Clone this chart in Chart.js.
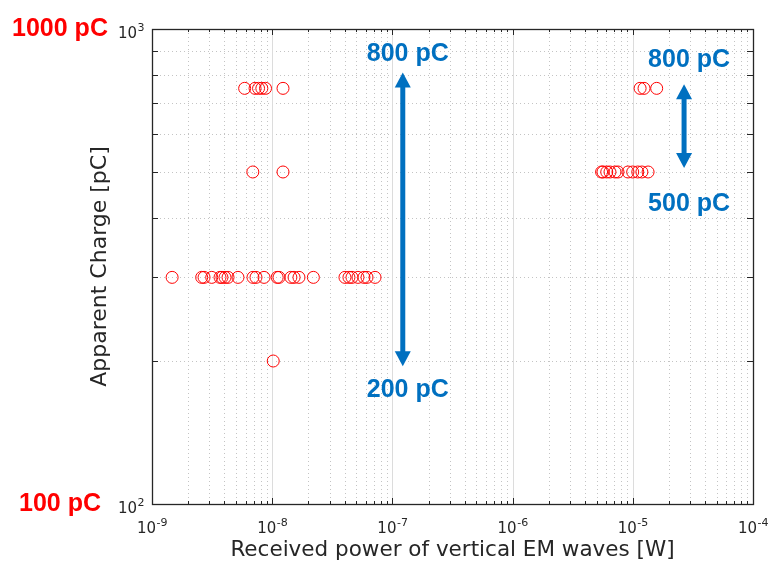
<!DOCTYPE html>
<html>
<head>
<meta charset="utf-8">
<script src="https://cdn.jsdelivr.net/npm/chart.js@4.4.0/dist/chart.umd.min.js"></script>
<style>
  html, body { margin: 0; padding: 0; background: #fff; }
  #wrap { width: 768px; height: 563px; }
</style>
</head>
<body>
<div id="wrap"><canvas id="chart" width="768" height="563"></canvas></div>
<script>
// received power [W] and apparent charge [pC], one row per charge level
const power750 = [5.9e-9, 7.2e-9, 7.7e-9, 8.2e-9, 8.8e-9, 1.23e-8, 1.15e-5, 1.24e-5, 1.58e-5]
const power500 = [6.9e-9, 1.23e-8, 5.5e-6, 5.65e-6, 6.07e-6, 6.46e-6, 7.11e-6, 7.53e-6, 9.12e-6, 9.98e-6, 1.1e-5, 1.19e-5, 1.34e-5]
const power300 = [1.47e-9, 2.59e-9, 2.71e-9, 3.14e-9, 3.68e-9, 3.82e-9, 4.05e-9, 4.29e-9, 5.19e-9,
    6.92e-9, 7.33e-9, 8.55e-9, 1.1e-8, 1.14e-8, 1.43e-8, 1.52e-8, 1.67e-8, 2.2e-8,
    4.03e-8, 4.35e-8, 4.61e-8, 5.17e-8, 5.8e-8, 6.15e-8, 7.17e-8]
const power200 = [1.02e-8]
const chargeLevels = [750, 500, 300, 200]

// decade ticks, label = 10 with exponent
const xTicks = [1e-9, 1e-8, 1e-7, 1e-6, 1e-5, 1e-4]
const xTickExp = ['-9', '-8', '-7', '-6', '-5', '-4']
const yTicks = [100, 1000]
const yTickExp = ['2', '3']

// arrows: x, top value, bottom value, top text, bottom text
const arrows = [
    {x: 1.22e-7, top: 810, bottom: 195, topText: '800 pC', bottomText: '200 pC', topLabel: 884, bottomLabel: 174},
    {x: 2.67e-5, top: 765, bottom: 510, topText: '800 pC', bottomText: '500 pC', topLabel: 858, bottomLabel: 428}
]
const sideLabels = [{value: 1000, text: '1000 pC'}, {value: 100, text: '100 pC'}]

const points = []
const rows = [power750, power500, power300, power200]
rows.forEach((row, i) => {
    row.forEach(p => points.push({x: p, y: chargeLevels[i]}))
})

const blue = '#0070c0'
const axisFont = '"DejaVu Sans", sans-serif'

function drawPow(ctx, exp, x, y, align) {
    // "10" with raised exponent; x is centre or right edge
    ctx.font = '15px ' + axisFont
    const wb = ctx.measureText('10').width
    ctx.font = '11px ' + axisFont
    const we = ctx.measureText(exp).width
    let left = align === 'right' ? x - wb - we : x - (wb + we) / 2
    ctx.textAlign = 'left'
    ctx.textBaseline = 'alphabetic'
    ctx.font = '15px ' + axisFont
    ctx.fillText('10', left, y)
    ctx.font = '11px ' + axisFont
    ctx.fillText(exp, left + wb + 0.5, y - 7)
}

const gridPlugin = {
    id: 'matlabGrid',
    beforeDatasetsDraw(chart) {
        const ctx = chart.ctx
        const a = chart.chartArea
        const xs = chart.scales.x
        const ys = chart.scales.y
        ctx.save()
        // minor dotted grid
        ctx.strokeStyle = '#c4c4c4'
        ctx.lineWidth = 1
        ctx.setLineDash([1, 3])
        for (let d = -9; d < -4; d++) {
            for (let m = 2; m < 10; m++) {
                const px = Math.round(xs.getPixelForValue(m * Math.pow(10, d))) + 0.5
                ctx.beginPath(); ctx.moveTo(px, a.top); ctx.lineTo(px, a.bottom); ctx.stroke()
            }
        }
        for (let m = 2; m < 10; m++) {
            const py = Math.round(ys.getPixelForValue(m * 100)) + 0.5
            ctx.beginPath(); ctx.moveTo(a.left, py); ctx.lineTo(a.right, py); ctx.stroke()
        }
        // major grid
        ctx.setLineDash([])
        ctx.strokeStyle = '#dcdcdc'
        xTicks.slice(1, -1).forEach(v => {
            const px = Math.round(xs.getPixelForValue(v)) + 0.5
            ctx.beginPath(); ctx.moveTo(px, a.top); ctx.lineTo(px, a.bottom); ctx.stroke()
        })
        // inward ticks
        ctx.strokeStyle = '#262626'
        for (let d = -9; d < -4; d++) {
            for (let m = 1; m < 10; m++) {
                const len = m === 1 ? 6 : 3
                const px = Math.round(xs.getPixelForValue(m * Math.pow(10, d))) + 0.5
                ctx.beginPath()
                ctx.moveTo(px, a.bottom); ctx.lineTo(px, a.bottom - len)
                ctx.moveTo(px, a.top); ctx.lineTo(px, a.top + len)
                ctx.stroke()
            }
        }
        for (let m = 2; m < 10; m++) {
            const py = Math.round(ys.getPixelForValue(m * 100)) + 0.5
            ctx.beginPath()
            ctx.moveTo(a.left, py); ctx.lineTo(a.left + 6, py)
            ctx.moveTo(a.right, py); ctx.lineTo(a.right - 6, py)
            ctx.stroke()
        }
        ctx.lineWidth = 1.3
        ctx.strokeRect(a.left + 0.5, a.top + 0.5, a.right - a.left, a.bottom - a.top)

        // tick labels
        ctx.fillStyle = '#262626'
        xTicks.forEach((v, i) => drawPow(ctx, xTickExp[i], xs.getPixelForValue(v), a.bottom + 29, 'center'))
        yTicks.forEach((v, i) => drawPow(ctx, yTickExp[i], a.left - 8, ys.getPixelForValue(v) + 9, 'right'))
        ctx.restore()
    },
    afterDraw(chart) {
        const ctx = chart.ctx
        const xs = chart.scales.x
        const ys = chart.scales.y
        ctx.save()
        ctx.fillStyle = blue
        ctx.strokeStyle = blue
        arrows.forEach(ar => {
            const px = xs.getPixelForValue(ar.x)
            const t = ys.getPixelForValue(ar.top)
            const b = ys.getPixelForValue(ar.bottom)
            const hw = 8, hl = 15
            ctx.lineWidth = 5
            ctx.beginPath(); ctx.moveTo(px, t + hl - 2); ctx.lineTo(px, b - hl + 2); ctx.stroke()
            ctx.beginPath(); ctx.moveTo(px, t); ctx.lineTo(px - hw, t + hl); ctx.lineTo(px + hw, t + hl); ctx.closePath(); ctx.fill()
            ctx.beginPath(); ctx.moveTo(px, b); ctx.lineTo(px - hw, b - hl); ctx.lineTo(px + hw, b - hl); ctx.closePath(); ctx.fill()
            ctx.font = 'bold 25px "Liberation Sans", Arial, sans-serif'
            ctx.textAlign = 'center'
            ctx.textBaseline = 'middle'
            ctx.fillText(ar.topText, px + 5, ys.getPixelForValue(ar.topLabel))
            ctx.fillText(ar.bottomText, px + 5, ys.getPixelForValue(ar.bottomLabel))
        })
        ctx.fillStyle = '#ff0000'
        ctx.font = 'bold 25px "Liberation Sans", Arial, sans-serif'
        ctx.textAlign = 'center'
        ctx.textBaseline = 'middle'
        sideLabels.forEach(s => {
            ctx.fillText(s.text, 60, ys.getPixelForValue(s.value))
        })
        ctx.restore()
    }
}

const ctx = document.getElementById('chart').getContext('2d')
const chart = new Chart(ctx, {
    type: 'scatter',
    data: {
        datasets: [{
            data: points,
            pointStyle: 'circle',
            pointRadius: 6,
            pointHoverRadius: 6,
            borderColor: '#ff0000',
            backgroundColor: 'rgba(0,0,0,0)',
            pointBorderWidth: 1
        }]
    },
    options: {
        responsive: false,
        animation: false,
        layout: {padding: {top: 29, right: 15, left: 0, bottom: 0}},
        plugins: {legend: {display: false}, tooltip: {enabled: false}},
        scales: {
            x: {
                type: 'logarithmic',
                min: 1e-9,
                max: 1e-4,
                grid: {display: false},
                border: {display: false},
                afterBuildTicks: s => { s.ticks = xTicks.map(v => ({value: v})) },
                afterFit: s => { s.height = 59; s.paddingLeft = 0; s.paddingRight = 0 },
                ticks: {display: false},
                title: {
                    display: true,
                    text: 'Received power of vertical EM waves [W]',
                    color: '#262626',
                    font: {family: axisFont, size: 21.5},
                    padding: {top: 0, bottom: 0}
                }
            },
            y: {
                type: 'logarithmic',
                min: 100,
                max: 1000,
                grid: {display: false},
                border: {display: false},
                afterBuildTicks: s => { s.ticks = yTicks.map(v => ({value: v})) },
                afterFit: s => { s.width = 152; s.paddingTop = 0; s.paddingBottom = 0 },
                ticks: {display: false},
                title: {
                    display: true,
                    text: 'Apparent Charge [pC]',
                    color: '#262626',
                    font: {family: axisFont, size: 22},
                    padding: {top: 87, bottom: 0}
                }
            }
        }
    },
    plugins: [gridPlugin]
})
</script>
</body>
</html>
